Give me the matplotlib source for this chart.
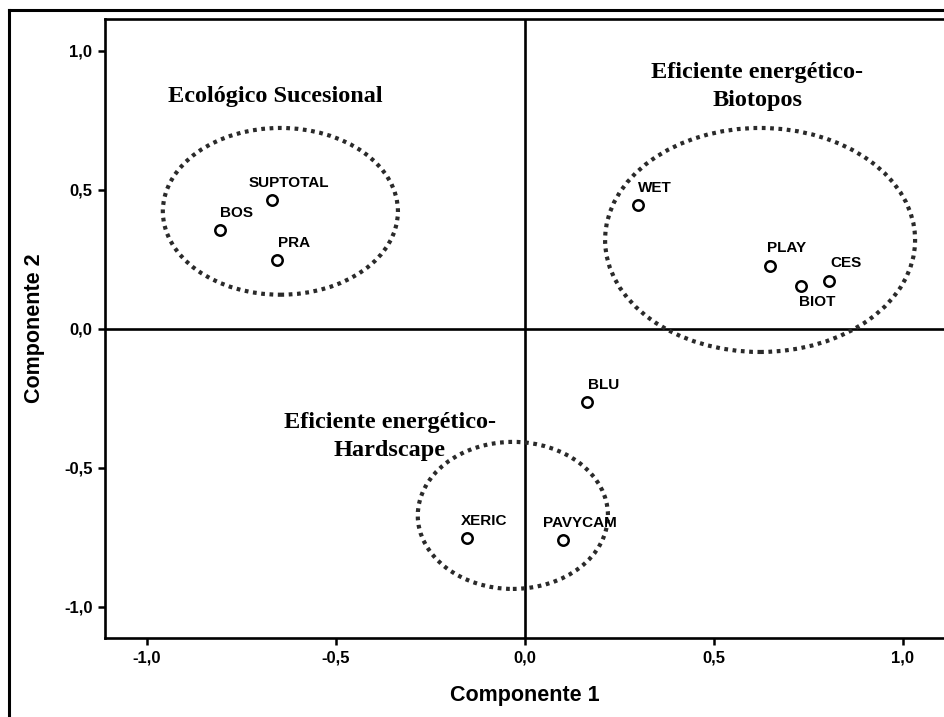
import matplotlib.pyplot as plt
from matplotlib.patches import Ellipse
from matplotlib.lines import Line2D

# component loadings
labels = ['SUPTOTAL', 'BOS', 'PRA', 'WET', 'PLAY', 'BIOT', 'CES', 'BLU', 'XERIC', 'PAVYCAM']
comp1 = [-0.669, -0.807, -0.656, 0.299, 0.648, 0.730, 0.804, 0.164, -0.153, 0.101]
comp2 = [0.464, 0.356, 0.248, 0.446, 0.227, 0.155, 0.173, -0.263, -0.752, -0.759]

# groups drawn as dotted ellipses: centre x, centre y, width, height
group_names = ['Ecológico Sucesional', 'Eficiente energético-\nBiotopos', 'Eficiente energético-\nHardscape']
group_cx = [-0.647, 0.622, -0.032]
group_cy = [0.423, 0.320, -0.671]
group_w = [0.622, 0.820, 0.503]
group_h = [0.600, 0.806, 0.529]
title_x = [-0.661, 0.614, -0.357]
title_y = [0.835, 0.872, -0.388]

ticks = [-1.0, -0.5, 0.0, 0.5, 1.0]
tick_text = ['-1,0', '-0,5', '0,0', '0,5', '1,0']

plt.rcParams['font.family'] = ['Liberation Sans', 'DejaVu Sans']

fig = plt.figure(figsize=(9.44, 7.17), dpi=100)
ax = fig.add_axes([0.1112, 0.1102, 0.8898, 0.8633])

ax.set_xlim(-1.111, 1.111)
ax.set_ylim(-1.112, 1.115)

# quadrant lines
ax.axhline(0, color='black', lw=1.9, zorder=1)
ax.axvline(0, color='black', lw=1.9, zorder=1)

for cx, cy, w, h in zip(group_cx, group_cy, group_w, group_h):
    ax.add_patch(Ellipse((cx, cy), w, h, fill=False, edgecolor='#2a2a2a',
                         lw=3.0, linestyle=(0, (0.9, 1.1)), zorder=2))

for name, tx, ty in zip(group_names, title_x, title_y):
    ax.text(tx, ty, name, ha='center', va='center', fontsize=17.5,
            fontweight='bold', family='Liberation Serif', linespacing=1.45,
            zorder=4)

ax.plot(comp1, comp2, 'o', ms=7.5, mfc='white', mec='black', mew=1.8, zorder=3)

for lab, x, y in zip(labels, comp1, comp2):
    dy = -12 if lab == 'BIOT' else 12.5
    ax.annotate(lab, (x, y), xytext=(12, dy), textcoords='offset points',
                ha='center', va='center', fontsize=11, fontweight='bold',
                zorder=4)

ax.set_xticks(ticks)
ax.set_xticklabels(tick_text)
ax.set_yticks(ticks)
ax.set_yticklabels(tick_text)
ax.tick_params(direction='out', length=5, width=1.8, labelsize=12, pad=4)
for t in ax.get_xticklabels() + ax.get_yticklabels():
    t.set_fontweight('bold')

ax.set_xlabel('Componente 1', fontsize=15.5, fontweight='bold', labelpad=14)
ax.set_ylabel('Componente 2', fontsize=15.5, fontweight='bold', labelpad=14)

for side in ['left', 'bottom', 'top']:
    ax.spines[side].set_linewidth(1.9)
ax.spines['right'].set_visible(False)

# outer frame of the scanned figure (cut off at right and bottom)
fig.add_artist(Line2D([9 / 944, 1.0], [1 - 10 / 717, 1 - 10 / 717],
                      transform=fig.transFigure, color='black', lw=2.2))
fig.add_artist(Line2D([9 / 944, 9 / 944], [0.0, 1 - 10 / 717],
                      transform=fig.transFigure, color='black', lw=2.2))

fig.savefig('out.png', dpi=100)
